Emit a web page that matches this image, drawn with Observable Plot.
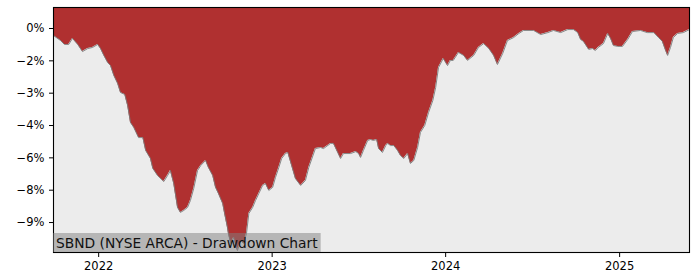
<!DOCTYPE html>
<html>
<head>
<meta charset="utf-8">
<script src="https://cdn.jsdelivr.net/npm/d3@7"></script>
<script src="https://cdn.jsdelivr.net/npm/@observablehq/plot@0.6"></script>
<style>
  html, body { margin: 0; padding: 0; background: #fff; }
  #chart svg { display: block; }
</style>
</head>
<body>
<div id="chart"></div>
<script>
// ---- data ----
const dates = [
  "2021-09-28","2021-10-13","2021-10-21","2021-10-30","2021-11-07","2021-11-18","2021-11-28","2021-12-09","2021-12-19","2021-12-30",
  "2022-01-05","2022-01-12","2022-01-20","2022-01-26","2022-02-02","2022-02-10","2022-02-16","2022-02-25","2022-03-03","2022-03-09",
  "2022-03-16","2022-03-26","2022-04-04","2022-04-10","2022-04-20","2022-04-25","2022-05-05","2022-05-18","2022-05-26","2022-06-01",
  "2022-06-08","2022-06-16","2022-06-22","2022-06-29","2022-07-07","2022-07-13","2022-07-20","2022-07-28","2022-08-04","2022-08-14",
  "2022-08-20","2022-08-29","2022-09-04","2022-09-10","2022-09-19","2022-09-23","2022-09-29","2022-10-01","2022-10-06","2022-10-12",
  "2022-10-20","2022-10-27","2022-11-02","2022-11-08","2022-11-13","2022-11-21","2022-11-27","2022-12-04","2022-12-12","2022-12-18",
  "2022-12-25","2023-01-02","2023-01-08","2023-01-15","2023-01-21","2023-01-29","2023-02-03","2023-02-11","2023-02-19","2023-03-02",
  "2023-03-12","2023-03-19","2023-04-02","2023-04-13","2023-04-19","2023-05-04","2023-05-10","2023-05-19","2023-05-25","2023-05-31",
  "2023-06-15","2023-06-26","2023-07-02","2023-07-06","2023-07-12","2023-07-21","2023-07-27","2023-08-02","2023-08-09","2023-08-13",
  "2023-08-21","2023-08-28","2023-09-01","2023-09-07","2023-09-14","2023-09-22","2023-09-28","2023-10-05","2023-10-13","2023-10-19",
  "2023-10-26","2023-11-03","2023-11-09","2023-11-18","2023-11-26","2023-12-05","2023-12-11","2023-12-17","2023-12-27","2024-01-05",
  "2024-01-11","2024-01-17","2024-01-28","2024-02-08","2024-02-16","2024-02-29","2024-03-10","2024-03-21","2024-04-01","2024-04-11",
  "2024-04-19","2024-04-30","2024-05-10","2024-05-23","2024-06-03","2024-06-13","2024-07-04","2024-07-19","2024-08-03","2024-08-15",
  "2024-08-30","2024-09-14","2024-09-26","2024-10-05","2024-10-11","2024-10-17","2024-10-28","2024-11-05","2024-11-11","2024-11-17",
  "2024-11-28","2024-12-07","2024-12-13","2024-12-19","2024-12-28","2025-01-07","2025-01-18","2025-01-28","2025-02-14","2025-02-28",
  "2025-03-14","2025-03-24","2025-04-01","2025-04-07","2025-04-12","2025-04-18","2025-04-24","2025-05-03","2025-05-15","2025-05-28"
];
const drawdown = [
  -0.33,-0.56,-0.74,-0.74,-0.46,-0.74,-1.07,-0.93,-0.88,-0.74,
  -0.93,-1.25,-1.58,-1.72,-2.18,-2.55,-2.97,-3.06,-3.57,-4.36,
  -4.59,-5.06,-5.06,-5.66,-6.03,-6.49,-6.82,-7.10,-6.82,-6.59,
  -7.19,-8.30,-8.53,-8.44,-8.30,-7.98,-7.42,-6.59,-6.35,-6.12,
  -6.45,-6.82,-7.37,-7.65,-8.12,-8.58,-9.23,-9.51,-9.97,-9.69,
  -10.30,-9.83,-9.97,-9.51,-8.58,-8.30,-7.98,-7.65,-7.28,-7.19,
  -7.51,-7.37,-6.91,-6.45,-6.03,-5.80,-5.75,-6.35,-6.96,-7.28,
  -7.05,-6.45,-5.57,-5.52,-5.57,-5.33,-5.33,-5.75,-6.03,-5.80,
  -5.80,-5.71,-5.80,-5.98,-5.66,-5.19,-5.15,-5.19,-5.15,-5.57,
  -5.75,-5.43,-5.33,-5.43,-5.43,-5.66,-5.89,-6.03,-5.80,-6.26,
  -6.12,-5.52,-4.82,-4.50,-3.90,-3.34,-2.74,-1.81,-1.39,-1.72,
  -1.48,-1.48,-1.11,-1.25,-1.48,-1.25,-0.88,-0.70,-0.93,-1.25,
  -1.67,-1.16,-0.56,-0.42,-0.23,-0.09,-0.09,-0.28,-0.19,-0.09,
  -0.19,-0.05,-0.05,-0.19,-0.51,-0.60,-0.97,-0.93,-1.02,-0.88,
  -0.70,-0.23,-0.46,-0.79,-0.83,-0.83,-0.51,-0.14,-0.09,-0.19,
  -0.19,-0.42,-0.60,-0.97,-1.25,-0.88,-0.42,-0.23,-0.19,-0.05
];
const xTicks = ["2022-01-01","2023-01-01","2024-01-01","2025-01-01"];
const yTicks = [0, -1.5, -3, -4.5, -6, -7.5, -9];
const yLabels = ["0%", "\u22122%", "\u22123%", "\u22124%", "\u22126%", "\u22128%", "\u22129%"];
const title = "SBND (NYSE ARCA) - Drawdown Chart";

// ---- chart ----
const xDomain = [new Date("2021-09-28"), new Date("2025-05-28")];
const yDomain = [-10.39, 0.974];
const data = dates.map((d, i) => ({date: new Date(d), dd: drawdown[i]}));

const chart = Plot.plot({
  width: 700,
  height: 280,
  marginLeft: 53,
  marginRight: 11,
  marginTop: 7,
  marginBottom: 28,
  style: {fontFamily: "'DejaVu Sans', sans-serif", fontSize: "11.5px", color: "#000", background: "#fff", overflow: "visible"},
  x: {type: "utc", domain: xDomain},
  y: {domain: yDomain},
  marks: [
    Plot.frame({fill: "#ececec"}),
    Plot.areaY(data, {x: "date", y1: "dd", y2: () => yDomain[1], fill: "#b03030"}),
    Plot.lineY(data, {x: "date", y: "dd", stroke: "#7a7a7a", strokeWidth: 0.9}),
    Plot.frame({stroke: "#000", strokeWidth: 1.1}),
    Plot.axisX({ticks: xTicks.map(d => new Date(d)), tickFormat: d3.utcFormat("%Y"), label: null, tickSize: 5, tickPadding: 4}),
    Plot.axisY({ticks: yTicks, tickFormat: d => yLabels[yTicks.indexOf(d)], label: null, tickSize: 4, tickPadding: 5})
  ]
});

document.getElementById("chart").appendChild(chart);

// title box, bottom-left inside the plot frame
const svg = d3.select(chart);
const g = svg.append("g");
const rect = g.append("rect").attr("fill", "#808080").attr("fill-opacity", 0.5);
const txt = g.append("text")
  .attr("x", 56)
  .attr("y", 280 - 28 - 4.5)
  .attr("text-anchor", "start")
  .attr("font-family", "'DejaVu Sans', sans-serif")
  .attr("font-size", "13.8px")
  .attr("fill", "#111")
  .text(title);
const w = txt.node().getComputedTextLength();
rect.attr("x", 53).attr("y", 280 - 28 - 19).attr("width", w + 6).attr("height", 19);
</script>
</body>
</html>
